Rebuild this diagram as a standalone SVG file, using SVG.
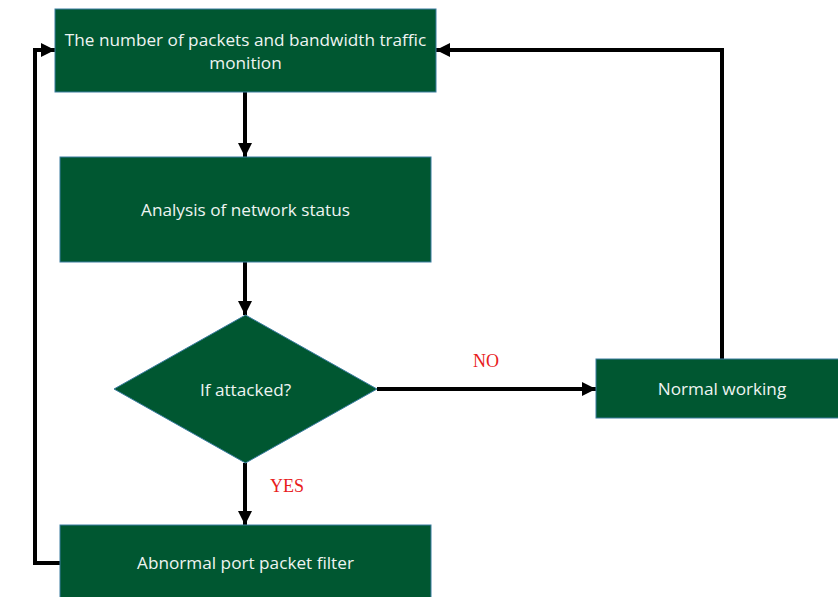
<svg xmlns="http://www.w3.org/2000/svg" width="838" height="597" viewBox="0 0 838 597">
  <style>
    .box { fill: #005731; stroke: #3a7ca0; stroke-width: 1; }
    .label { fill: #eef4f2; font-family: "Open Sans", "Liberation Sans", sans-serif; font-size: 17.2px; text-anchor: middle; dominant-baseline: central; }
    .flag { fill: #e8201c; font-family: "Liberation Serif", serif; font-size: 18px; text-anchor: middle; }
    .link { fill: none; stroke: #000; stroke-width: 4; marker-end: url(#head); }
  </style>
  <defs>
    <marker id="head" viewBox="0 0 10 10" refX="10" refY="5" markerWidth="3.6" markerHeight="3.6" markerUnits="strokeWidth" orient="auto">
      <path d="M0,0 L10,5 L0,10 z" fill="#000"/>
    </marker>
  </defs>
  <rect width="838" height="597" fill="#fff"/>

  <g id="connectors">
    <path class="link" d="M245,92 V157"/>
    <path class="link" d="M245,262 V315"/>
    <path class="link" d="M245,463 V525"/>
    <path class="link" d="M377,389 H596"/>
    <path class="link" d="M722,359 V50 H436"/>
    <path class="link" d="M60,563 H35 V50 H55"/>
  </g>

  <g id="monitor">
    <rect class="box" x="55" y="9" width="381" height="83"/>
    <text class="label" x="245.5" y="39">The number of packets and bandwidth traffic</text>
    <text class="label" x="245.5" y="62">monition</text>
  </g>

  <g id="analysis">
    <rect class="box" x="60" y="157" width="371" height="105"/>
    <text class="label" x="245.5" y="209">Analysis of network status</text>
  </g>

  <g id="decision">
    <polygon class="box" points="245.5,315 377,389 245.5,463 114,389"/>
    <text class="label" x="245.5" y="389">If attacked?</text>
  </g>

  <g id="normal">
    <rect class="box" x="596" y="359" width="246" height="59"/>
    <text class="label" x="722" y="388">Normal working</text>
  </g>

  <g id="filter">
    <rect class="box" x="60" y="525" width="371" height="76"/>
    <text class="label" x="245.5" y="562">Abnormal port packet filter</text>
  </g>

  <g id="branch-labels">
    <text class="flag" x="486" y="367">NO</text>
    <text class="flag" x="287" y="492">YES</text>
  </g>
</svg>
